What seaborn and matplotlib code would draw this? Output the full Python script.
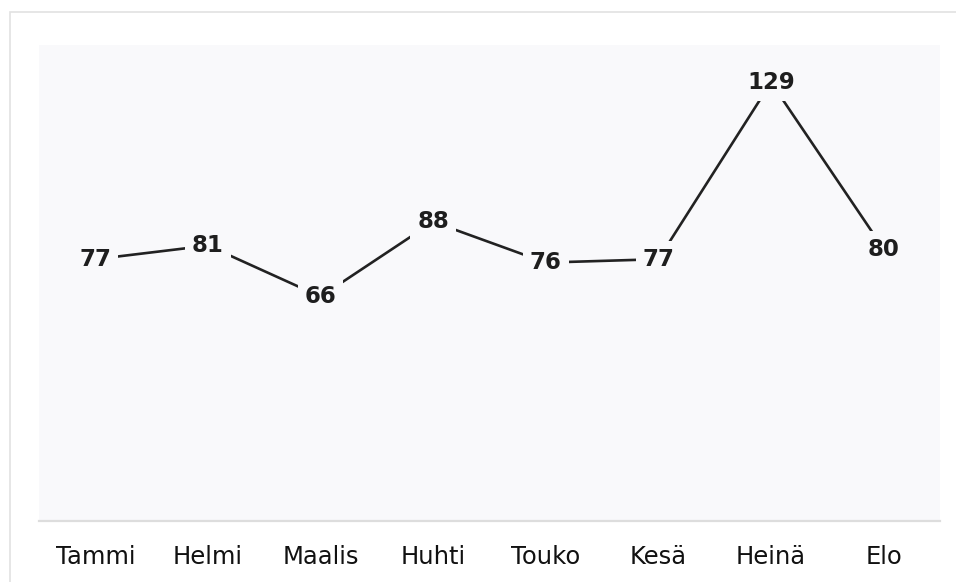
import matplotlib.pyplot as plt
import matplotlib.patches as mpatches
import pandas as pd
import seaborn as sns

# Kuukaudet ja arvot
months = ['Tammi', 'Helmi', 'Maalis', 'Huhti', 'Touko', 'Kesä', 'Heinä', 'Elo']
values = [77, 81, 66, 88, 76, 77, 129, 80]

df = pd.DataFrame({'kk': range(len(months)), 'arvo': values})

bg = '#f9f9fb'
sns.set_theme(style='white')
plt.rcParams['font.family'] = ['DejaVu Sans']

fig = plt.figure(figsize=(9.56, 5.82), dpi=100)
ax = fig.add_axes([39 / 956, 61 / 582, 901 / 956, 476 / 582])
ax.set_facecolor(bg)

sns.lineplot(data=df, x='kk', y='arvo', ax=ax, color='#222222', linewidth=1.9)

# Arvot pisteiden kohdalle, tausta katkaisee viivan
for i, v in enumerate(values):
    ax.text(i, v, str(v), ha='center', va='center', fontsize=16.5, fontweight='bold',
            color='#1e1e1e',
            bbox=dict(boxstyle='square,pad=0.3', facecolor=bg, edgecolor='none'))

ax.set_xlim(-0.5, len(months) - 0.5)
ax.set_ylim(0, 140)
ax.set_xticks(range(len(months)))
ax.set_xticklabels(months, fontsize=17.5, color='#111111')
ax.set_yticks([])
ax.set_xlabel('')
ax.set_ylabel('')
ax.tick_params(axis='x', length=0, pad=17)
for side in ['top', 'left', 'right']:
    ax.spines[side].set_visible(False)
ax.spines['bottom'].set_color('#dddddd')
ax.spines['bottom'].set_linewidth(1.6)

# Ulkoreunus
fig.patches.append(mpatches.Rectangle((10 / 956, -0.01), 1.0, (582 - 12) / 582 + 0.01,
                                      transform=fig.transFigure, fill=False,
                                      edgecolor='#e2e2e2', linewidth=1.2))

fig.savefig('out.png', dpi=100, facecolor='white')
